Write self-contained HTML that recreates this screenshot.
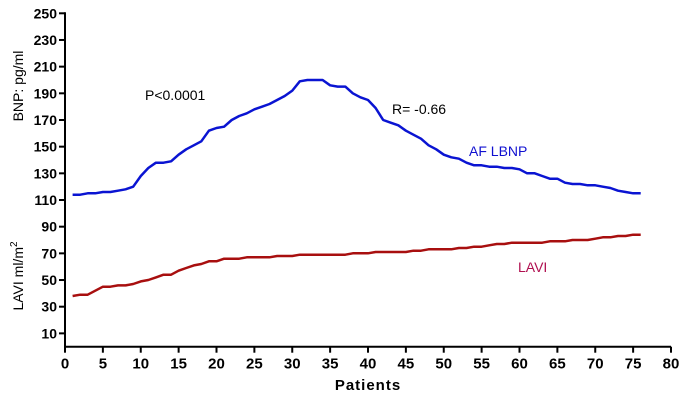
<!DOCTYPE html>
<html><head><meta charset="utf-8"><style>
html,body{margin:0;padding:0;background:#fff;}
svg{display:block;font-family:"Liberation Sans",Arial,sans-serif;}
</style></head><body>
<svg id="chart" width="689" height="400" xmlns="http://www.w3.org/2000/svg"></svg>
<script>
const patients = [];
for (let i = 1; i <= 76; i++) patients.push(i);
const bnpValues = [114,114,115,115,116,116,117,118,120,128,134,138,138,139,144,148,151,154,162,164,165,170,173,175,178,180,182,185,188,192,199,200,200,200,196,195,195,190,187,185,179,170,168,166,162,159,156,151,148,144,142,141,138,136,136,135,135,134,134,133,130,130,128,126,126,123,122,122,121,121,120,119,117,116,115,115];
const laviValues = [38,39,39,42,45,45,46,46,47,49,50,52,54,54,57,59,61,62,64,64,66,66,66,67,67,67,67,68,68,68,69,69,69,69,69,69,69,70,70,70,71,71,71,71,71,72,72,73,73,73,73,74,74,75,75,76,77,77,78,78,78,78,78,79,79,79,80,80,80,81,82,82,83,83,84,84];
const xTicks = [0,5,10,15,20,25,30,35,40,45,50,55,60,65,70,75,80];
const yTicks = [10,30,50,70,90,110,130,150,170,190,210,230,250];

const svg = document.getElementById('chart');
const NS = 'http://www.w3.org/2000/svg';
const x0 = 65, x1 = 671, yBase = 346.7, yTop = 13.3;
function xs(v){ return x0 + (v/80)*(x1-x0); }
function ys(v){ return yBase - (v/250)*(yBase-yTop); }
function mk(tag, attrs, parent){ const e=document.createElementNS(NS,tag); for(const k in attrs) e.setAttribute(k,attrs[k]); (parent||svg).appendChild(e); return e; }

const yAxis = mk('line',{x1:x0,y1:ys(250)-1,x2:x0,y2:yBase,stroke:'#000','stroke-width':2});


const xAxis = mk('line',{x1:x0-1,y1:yBase,x2:x1,y2:yBase,stroke:'#000','stroke-width':2});



yTicks.forEach(v=>{
  const t = mk('line',{x1:x0-6,y1:ys(v),x2:x0,y2:ys(v),stroke:'#000','stroke-width':2});
  
  
  const l = mk('text',{x:x0-8,y:ys(v)+5,'text-anchor':'end','font-size':14,'font-weight':'bold',fill:'#000'});
  l.textContent = v;
  
  
});
xTicks.forEach(v=>{
  const t = mk('line',{x1:xs(v),y1:yBase,x2:xs(v),y2:yBase+6,stroke:'#000','stroke-width':2});
  
  
  const l = mk('text',{x:xs(v),y:yBase+22,'text-anchor':'middle','font-size':15,'font-weight':'bold',fill:'#000'});
  l.textContent = v;
  
  
});

function line(vals,color,name){
  const d = vals.map((v,i)=>(i?'L':'M')+xs(patients[i]).toFixed(1)+','+ys(v).toFixed(1)).join(' ');
  const p = mk('path',{d:d,fill:'none',stroke:color,'stroke-width':2.5,'stroke-linejoin':'round'});
  
  
}
line(bnpValues,'#0a14d2','bnp-line');
line(laviValues,'#a80f0f','lavi-line');

function txt(s,x,y,attrs,name){
  const e = mk('text',Object.assign({x:x,y:y,fill:'#000'},attrs));
  e.textContent = s;
  
  
  return e;
}
txt('P<0.0001',145,100,{'font-size':14},'p-value-label');
txt('R= -0.66',392,114,{'font-size':14},'r-value-label');
txt('AF LBNP',469,156,{'font-size':14,fill:'#1010d0'},'af-lbnp-label');
txt('LAVI',518,272,{'font-size':14,fill:'#b01050'},'lavi-label');
txt('Patients',368,390,{'font-size':15,'font-weight':'bold','text-anchor':'middle','letter-spacing':'1'},'x-axis-title');
txt('BNP: pg/ml',0,0,{'font-size':14,'text-anchor':'middle',transform:'translate(23,86) rotate(-90)'},'y-axis-title-bnp');
const lt = txt('LAVI ml/m',0,0,{'font-size':14,'text-anchor':'middle',transform:'translate(23,276) rotate(-90)'},'y-axis-title-lavi');
const sup = document.createElementNS(NS,'tspan');
sup.setAttribute('dy','-6');
sup.setAttribute('font-size','10');
sup.textContent='2';
lt.appendChild(sup);
</script>
</body></html>
